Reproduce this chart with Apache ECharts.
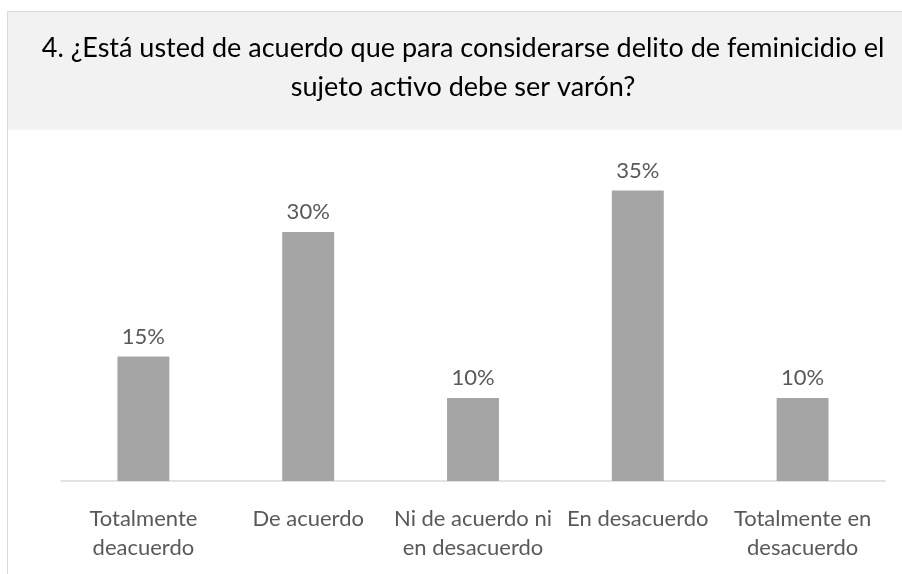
<!DOCTYPE html>
<html>
<head>
<meta charset="utf-8">
<script src="https://cdn.jsdelivr.net/npm/echarts@6/dist/echarts.min.js"></script>
<style>
  html, body { margin: 0; padding: 0; background: #fff; }
  #chart { width: 902px; height: 574px; }
</style>
</head>
<body>
<div id="chart"></div>
<script>
const titleText = '4. ¿Está usted de acuerdo que para considerarse delito de feminicidio el\nsujeto activo debe ser varón?';
const categories = ['Totalmente\ndeacuerdo', 'De acuerdo', 'Ni de acuerdo ni\nen desacuerdo', 'En desacuerdo', 'Totalmente en\ndesacuerdo'];
const percentages = [15, 30, 10, 35, 10];

const chart = echarts.init(document.getElementById('chart'));

chart.setOption({
    animation: false,
    textStyle: { fontFamily: 'Lato' },
    graphic: [
        // title band
        {
            type: 'rect',
            shape: { x: 7.5, y: 11.5, width: 900, height: 118 },
            style: { fill: '#f2f2f2', stroke: null },
            z: -10
        },
        // frame lines
        {
            type: 'polyline',
            shape: { points: [[7.5, 574], [7.5, 11.5], [902, 11.5]] },
            style: { stroke: '#d9d9d9', lineWidth: 1, fill: null },
            z: -5
        }
    ],
    title: {
        text: titleText,
        left: 458,
        textAlign: 'center',
        top: 24,
        textStyle: {
            fontFamily: 'Lato',
            fontSize: 27,
            fontWeight: 'normal',
            color: '#000',
            lineHeight: 39
        }
    },
    grid: {
        left: 61,
        right: 17,
        top: 149,
        bottom: 93
    },
    xAxis: {
        type: 'category',
        data: categories,
        axisLine: { lineStyle: { color: '#d9d9d9', width: 1.5 } },
        axisTick: { show: false },
        axisLabel: {
            interval: 0,
            color: '#595959',
            fontSize: 22,
            lineHeight: 29,
            margin: 23
        }
    },
    yAxis: {
        type: 'value',
        min: 0,
        max: 40,
        show: false,
        splitLine: { show: false }
    },
    series: [{
        type: 'bar',
        data: percentages,
        barWidth: '31.5%',
        itemStyle: { color: '#a5a5a5' },
        label: {
            show: true,
            position: 'top',
            distance: 9,
            formatter: '{c}%',
            color: '#595959',
            fontSize: 22
        }
    }]
});
</script>
</body>
</html>
